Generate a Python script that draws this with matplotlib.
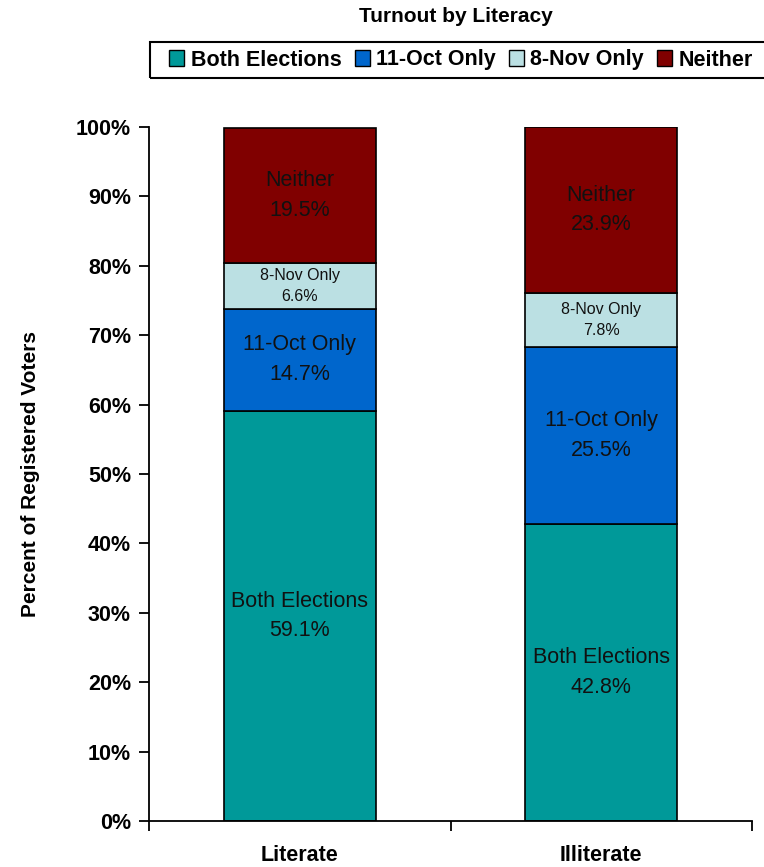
import matplotlib
matplotlib.use("Agg")
import matplotlib.pyplot as plt
from matplotlib.patches import Rectangle, Patch
from matplotlib.ticker import FixedLocator, PercentFormatter

plt.rcParams['font.family'] = ['Liberation Sans', 'DejaVu Sans']

title = "Turnout by Literacy"
groups = ["Literate", "Illiterate"]
series = ["Both Elections", "11-Oct Only", "8-Nov Only", "Neither"]
both = [59.1, 42.8]
oct_only = [14.7, 25.5]
nov_only = [6.6, 7.8]
neither = [19.5, 23.9]
colors = ["#009999", "#0066CC", "#BBE0E3", "#800000"]
label_sizes = [15.5, 15.5, 11.5, 15.5]
label_spacing = [1.55, 1.55, 1.45, 1.55]

values = [both, oct_only, nov_only, neither]

fig = plt.figure(figsize=(7.64, 8.67), dpi=100)
ax = fig.add_axes([149 / 764, 1 - 821 / 867, 603 / 764, 694 / 867])

x = list(range(len(groups)))
bottoms = [0.0] * len(groups)
for name, vals, col, fs, ls in zip(series, values, colors, label_sizes, label_spacing):
    ax.bar(x, vals, width=0.505, bottom=bottoms, color=col,
           edgecolor="black", linewidth=1.2, zorder=2)
    for xi, v, b in zip(x, vals, bottoms):
        ax.text(xi, b + v / 2, f"{name}\n{v:.1f}%", ha="center", va="center",
                fontsize=fs, color="#111111", linespacing=ls, zorder=3)
    bottoms = [b + v for b, v in zip(bottoms, vals)]

ax.set_xlim(-0.5, 1.5)
ax.set_ylim(0, 100)
ax.yaxis.set_major_locator(FixedLocator(range(0, 101, 10)))
ax.yaxis.set_major_formatter(PercentFormatter(decimals=0))
ax.tick_params(axis="y", direction="out", length=7, width=1.3,
               labelsize=15.5, pad=6)
for lbl in ax.get_yticklabels():
    lbl.set_fontweight("bold")

# category boundary ticks on x, labels centred under bars
ax.set_xticks([-0.5, 0.5, 1.5])
ax.set_xticklabels([])
ax.tick_params(axis="x", which="major", direction="out", length=7, width=1.3)
ax.set_xticks(x, minor=True)
ax.set_xticklabels(groups, minor=True, fontsize=15.5, fontweight="bold")
ax.tick_params(axis="x", which="minor", length=0, pad=17)

for side in ["top", "right"]:
    ax.spines[side].set_visible(False)
for side in ["left", "bottom"]:
    ax.spines[side].set_linewidth(1.3)

ax.set_ylabel("Percent of Registered Voters", fontsize=15, fontweight="bold",
              labelpad=26)

fig.text(456 / 764, 1 - 17 / 867, title, ha="center", va="center",
         fontsize=15, fontweight="bold")

handles = [Patch(facecolor=c, edgecolor="black", linewidth=1.0) for c in colors]
leg = fig.legend(handles, series, loc="center left",
                 bbox_to_anchor=(150 / 764, 1 - 60 / 867), ncol=4,
                 frameon=False, handlelength=0.7, handleheight=0.7,
                 handletextpad=0.3, columnspacing=0.6,
                 prop={"size": 15.5, "weight": "bold"})
fig.patches.append(Rectangle((150 / 764, 1 - 78 / 867), 630 / 764, 36 / 867,
                             transform=fig.transFigure, fill=False,
                             edgecolor="black", linewidth=1.5))

fig.savefig("out.png", dpi=100)
